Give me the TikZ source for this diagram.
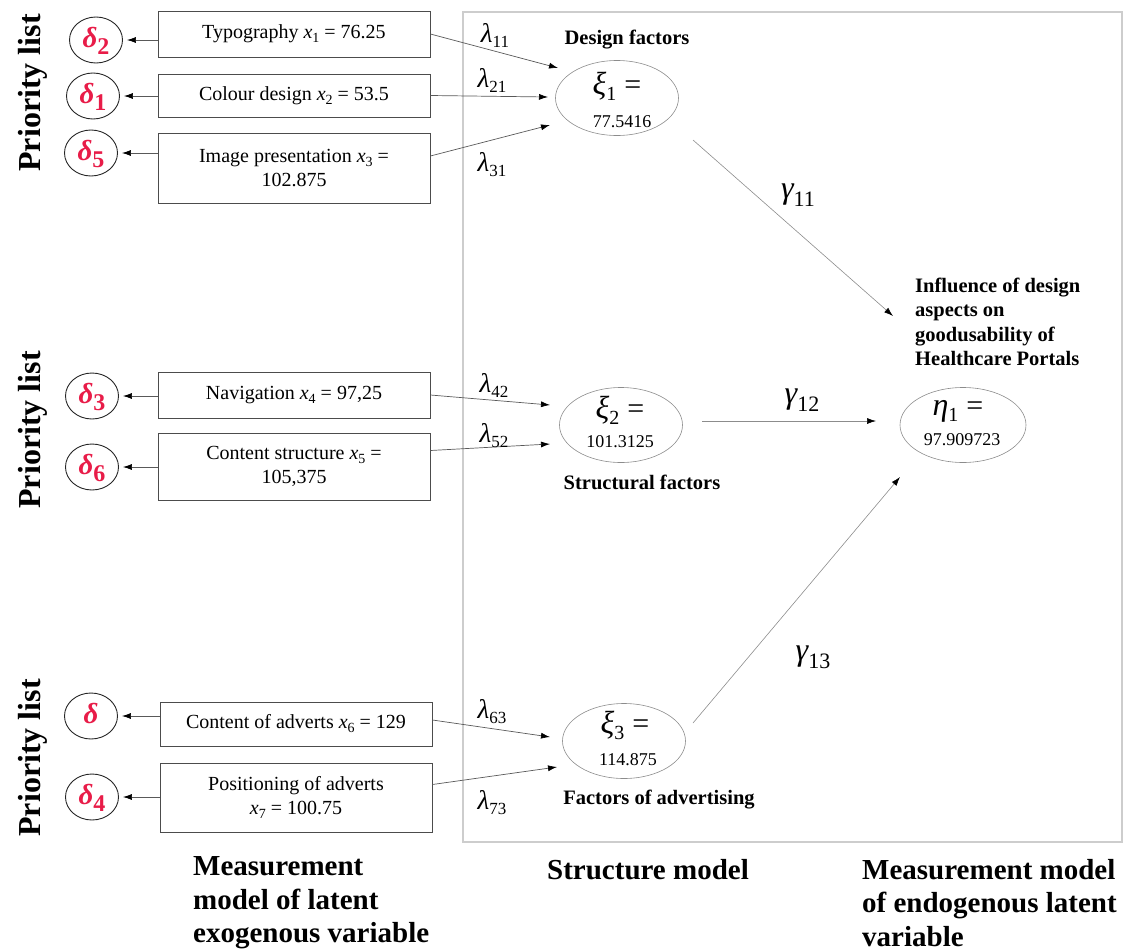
\documentclass[tikz,border=0pt]{standalone}
\usepackage{fontspec}
\setmainfont{Liberation Serif}
\usetikzlibrary{arrows.meta,shapes.geometric}
\definecolor{dred}{RGB}{232,28,72}
\definecolor{framegray}{RGB}{205,205,205}
\newcommand{\myx}[1]{\textit{x}\raisebox{-4pt}{\fontsize{14}{14}\selectfont #1}}
\newcommand{\mylam}[1]{{\fontsize{27}{27}\selectfont\itshape λ}\raisebox{-5pt}{\fontsize{17}{17}\selectfont #1}}
\newcommand{\mygam}[1]{{\fontsize{32}{32}\selectfont\itshape γ}\raisebox{-8pt}{\fontsize{22}{22}\selectfont #1}}
\newcommand{\mydlt}[1]{{\fontsize{29}{29}\selectfont\bfseries\itshape δ}\raisebox{-7pt}{\fontsize{24}{24}\selectfont\bfseries #1}}
\newcommand{\mylat}[2]{{\fontsize{32}{32}\selectfont\itshape #1}\raisebox{-6pt}{\fontsize{20}{20}\selectfont #2}\hspace{8pt}{\fontsize{30}{30}\selectfont =}}
\newcommand{\dltnode}[1]{\makebox[0pt]{\smash{\raisebox{-7pt}{\mydlt{#1}}}}}
\begin{document}
\begin{tikzpicture}[x=1pt,y=-1pt,
  mbox/.style={draw=black!70, line width=0.8pt, minimum width=272pt, inner sep=2pt, align=center, font=\fontsize{20}{24}\selectfont},
  err/.style={draw=black!85, line width=0.9pt, ellipse, minimum width=53pt, minimum height=46pt, inner sep=0pt, text=dred},
  latent/.style={draw=black!45, line width=0.6pt, ellipse, minimum width=123pt, minimum height=75pt, inner sep=0pt},
  bl/.style={font=\fontsize{20.5}{24.5}\selectfont\bfseries, inner sep=0pt},
  prio/.style={rotate=90, font=\fontsize{32}{32}\selectfont\bfseries, inner sep=0pt},
  bottomlab/.style={font=\fontsize{29}{33.5}\selectfont\bfseries, align=left, anchor=west, inner sep=0pt},
  num/.style={font=\fontsize{18}{18}\selectfont, inner sep=0pt},
  grk/.style={inner sep=0pt},
  arr/.style={draw=black!65, line width=0.7pt, -{Latex[length=9pt,width=6pt,color=black]}},
  garr/.style={draw=black!45, line width=0.6pt, -{Latex[length=9pt,width=6pt,color=black]}}
]
\path[use as bounding box] (0,0) rectangle (1128,951);
% structure frame
\draw[draw=framegray, line width=1.6pt] (463,12) rectangle (1122,842);

% priority labels
\node[prio] (p1) at (33,93) {Priority list};
\node[prio] (p2) at (33,430) {Priority list};
\node[prio] (p3) at (33,758) {Priority list};

% error terms
\node[err] (d2) at (96,40) {\dltnode{2}};
\node[err] (d1) at (93,96) {\dltnode{1}};
\node[err] (d5) at (91,153) {\dltnode{5}};
\node[err] (d3) at (92,396) {\dltnode{3}};
\node[err] (d6) at (92,467) {\dltnode{6}};
\node[err] (d0) at (91,716) {\dltnode{}};
\node[err] (d4) at (92,797) {\dltnode{4}};

% indicator boxes
\node[mbox, minimum height=46pt] (b1) at (294,34) {Typography \myx{1} = 76.25};
\node[mbox, minimum height=43pt] (b2) at (294,95.5) {Colour design \myx{2} = 53.5};
\node[mbox, minimum height=70pt] (b3) at (294,168) {Image presentation \myx{3} =\\102.875};
\node[mbox, minimum height=46pt] (b4) at (294,395) {Navigation \myx{4} = 97,25};
\node[mbox, minimum height=67pt] (b5) at (294,466.5) {Content structure \myx{5} =\\105,375};
\node[mbox, minimum height=44pt] (b6) at (296,724) {Content of adverts \myx{6} = 129};
\node[mbox, minimum height=69pt] (b7) at (296,797.5) {Positioning of adverts\\\myx{7} = 100.75};

% box -> error arrows
\draw[arr, shorten >=4pt] (d2 -| b1.west) -- (d2.east);
\draw[arr, shorten >=4pt] (d1 -| b2.west) -- (d1.east);
\draw[arr, shorten >=4pt] (d5 -| b3.west) -- (d5.east);
\draw[arr, shorten >=4pt] (d3 -| b4.west) -- (d3.east);
\draw[arr, shorten >=4pt] (d6 -| b5.west) -- (d6.east);
\draw[arr, shorten >=4pt] (d0 -| b6.west) -- (d0.east);
\draw[arr, shorten >=4pt] (d4 -| b7.west) -- (d4.east);

% latent variables
\node[latent] (xi1) at (617,98) {};
\node[grk] (xi1t) at (617,86) {\mylat{ξ}{1}};
\node[num] (xi1v) at (622,122) {77.5416};
\node[latent] (xi2) at (621,425) {};
\node[grk] (xi2t) at (620,410) {\mylat{ξ}{2}};
\node[num] (xi2v) at (620,442) {101.3125};
\node[latent] (xi3) at (624,741) {};
\node[grk] (xi3t) at (625,725) {\mylat{ξ}{3}};
\node[num] (xi3v) at (628,760) {114.875};
\node[latent, minimum width=126pt, minimum height=75pt] (eta1) at (963,425) {};
\node[grk] (eta1t) at (958,411) {\mylat{η}{1}};
\node[num] (eta1v) at (962,440) {97.909723};

% captions of latent variables
\node[bl] (lbd) at (627,40) {Design factors};
\node[bl] (lbs) at (642,482) {Structural factors};
\node[bl] (lba) at (659,800) {Factors of advertising};
\node[bl, align=left, anchor=west] (lbe) at (915,322) {Influence of design\\aspects on\\goodusability of\\Healthcare Portals};

% loading arrow end points
\coordinate (l11) at (558,68);
\coordinate (l21) at (548,97);
\coordinate (l31) at (550,125);
\coordinate (l42) at (550,405);
\coordinate (l52) at (550,444);
\coordinate (l63) at (550,737);
\coordinate (l73) at (557,767);

\draw[arr] (b1.east) -- (l11);
\draw[arr] (b2.east) -- (l21);
\draw[arr] ([yshift=12pt]b3.east) -- (l31);
\draw[arr] (b4.east) -- (l42);
\draw[arr] ([yshift=16pt]b5.east) -- (l52);
\draw[arr] ([yshift=4pt]b6.east) -- (l63);
\draw[arr] ([yshift=13pt]b7.east) -- (l73);

% loading labels
\node[grk] (tl11) at (495,35) {\mylam{11}};
\node[grk] (tl21) at (492,80) {\mylam{21}};
\node[grk] (tl31) at (492,165) {\mylam{31}};
\node[grk] (tl42) at (494,385) {\mylam{42}};
\node[grk] (tl52) at (494,436) {\mylam{52}};
\node[grk] (tl63) at (492,712) {\mylam{63}};
\node[grk] (tl73) at (492,803) {\mylam{73}};

% structural paths
\coordinate (g1s) at (693,140);
\coordinate (g1e) at (893,316);
\coordinate (g2s) at (702,421);
\coordinate (g2e) at (876,421);
\coordinate (g3s) at (693,723);
\coordinate (g3e) at (900,477);
\draw[garr] (g1s) -- (g1e);
\draw[garr] (g2s) -- (g2e);
\draw[garr] (g3s) -- (g3e);
\node[grk] (tg11) at (798,195) {\mygam{11}};
\node[grk] (tg12) at (802,400) {\mygam{12}};
\node[grk] (tg13) at (813,657) {\mygam{13}};

% bottom captions
\node[bottomlab] (c1) at (193,903) {Measurement\\model of latent\\exogenous variable};
\node[bottomlab] (c2) at (547,870) {Structure model};
\node[bottomlab] (c3) at (862,903) {Measurement model\\of endogenous latent\\variable};
\end{tikzpicture}
\end{document}
